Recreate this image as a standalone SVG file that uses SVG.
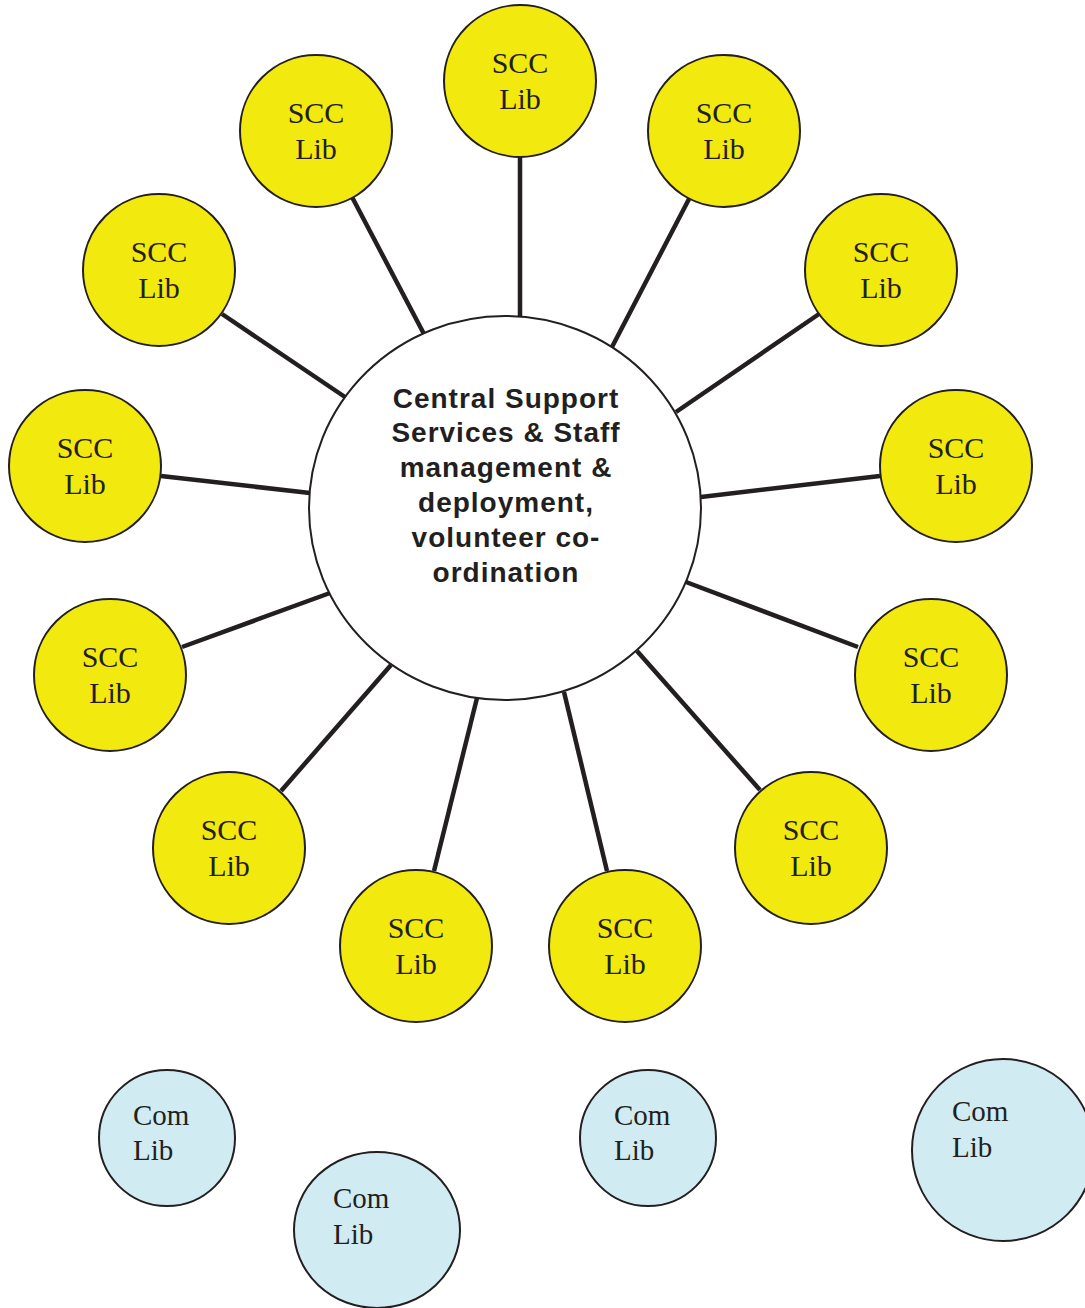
<svg xmlns="http://www.w3.org/2000/svg" width="1085" height="1308" viewBox="0 0 1085 1308">
<style>
.scc{fill:#f2e90f;stroke:#231f20;stroke-width:2}
.com{fill:#d0ecf2;stroke:#231f20;stroke-width:2}
.ctr{fill:#ffffff;stroke:#231f20;stroke-width:2}
.st{font-family:"Liberation Serif",serif;font-size:30px;fill:#231f20;text-anchor:middle}
.ct{font-family:"Liberation Serif",serif;font-size:29px;fill:#231f20}
.mt{font-family:"Liberation Sans",Arial,sans-serif;font-size:28px;letter-spacing:1px;font-weight:bold;fill:#231f20;text-anchor:middle}
.edge line{stroke:#231f20;stroke-width:4.5}
</style>
<g class="edge" id="connectors">
<line x1="520" y1="157" x2="520" y2="317"/>
<line x1="352" y1="197" x2="424" y2="334"/>
<line x1="689" y1="199" x2="612" y2="347"/>
<line x1="222" y1="314" x2="345" y2="397"/>
<line x1="819" y1="314" x2="676" y2="412"/>
<line x1="161" y1="476" x2="310" y2="493"/>
<line x1="880" y1="476" x2="701" y2="497"/>
<line x1="182" y1="647" x2="330" y2="593"/>
<line x1="858" y1="647" x2="686" y2="582"/>
<line x1="281" y1="791" x2="391" y2="665"/>
<line x1="760" y1="790" x2="637" y2="651"/>
<line x1="434" y1="871" x2="477" y2="698"/>
<line x1="607" y1="871" x2="564" y2="692"/>
</g>
<g id="center">
<ellipse class="ctr" cx="505" cy="508" rx="196" ry="192"/>
<text class="mt" x="506" y="408">Central Support</text>
<text class="mt" x="506" y="442">Services &amp; Staff</text>
<text class="mt" x="506" y="477">management &amp;</text>
<text class="mt" x="506" y="512">deployment,</text>
<text class="mt" x="506" y="547">volunteer co-</text>
<text class="mt" x="506" y="582">ordination</text>
</g>
<g id="scc1"><circle class="scc" cx="520" cy="81" r="76"/><text class="st" x="520" y="73">SCC</text><text class="st" x="520" y="109">Lib</text></g>
<g id="scc2"><circle class="scc" cx="316" cy="131" r="76"/><text class="st" x="316" y="123">SCC</text><text class="st" x="316" y="159">Lib</text></g>
<g id="scc3"><circle class="scc" cx="724" cy="131" r="76"/><text class="st" x="724" y="123">SCC</text><text class="st" x="724" y="159">Lib</text></g>
<g id="scc4"><circle class="scc" cx="159" cy="270" r="76"/><text class="st" x="159" y="262">SCC</text><text class="st" x="159" y="298">Lib</text></g>
<g id="scc5"><circle class="scc" cx="881" cy="270" r="76"/><text class="st" x="881" y="262">SCC</text><text class="st" x="881" y="298">Lib</text></g>
<g id="scc6"><circle class="scc" cx="85" cy="466" r="76"/><text class="st" x="85" y="458">SCC</text><text class="st" x="85" y="494">Lib</text></g>
<g id="scc7"><circle class="scc" cx="956" cy="466" r="76"/><text class="st" x="956" y="458">SCC</text><text class="st" x="956" y="494">Lib</text></g>
<g id="scc8"><circle class="scc" cx="110" cy="675" r="76"/><text class="st" x="110" y="667">SCC</text><text class="st" x="110" y="703">Lib</text></g>
<g id="scc9"><circle class="scc" cx="931" cy="675" r="76"/><text class="st" x="931" y="667">SCC</text><text class="st" x="931" y="703">Lib</text></g>
<g id="scc10"><circle class="scc" cx="229" cy="848" r="76"/><text class="st" x="229" y="840">SCC</text><text class="st" x="229" y="876">Lib</text></g>
<g id="scc11"><circle class="scc" cx="811" cy="848" r="76"/><text class="st" x="811" y="840">SCC</text><text class="st" x="811" y="876">Lib</text></g>
<g id="scc12"><circle class="scc" cx="416" cy="946" r="76"/><text class="st" x="416" y="938">SCC</text><text class="st" x="416" y="974">Lib</text></g>
<g id="scc13"><circle class="scc" cx="625" cy="946" r="76"/><text class="st" x="625" y="938">SCC</text><text class="st" x="625" y="974">Lib</text></g>
<g id="com1"><circle class="com" cx="167" cy="1138" r="68"/><text class="ct" x="133" y="1125">Com</text><text class="ct" x="133" y="1160">Lib</text></g>
<g id="com2"><ellipse class="com" cx="377" cy="1230" rx="83" ry="78"/><text class="ct" x="333" y="1208">Com</text><text class="ct" x="333" y="1244">Lib</text></g>
<g id="com3"><circle class="com" cx="648" cy="1138" r="68"/><text class="ct" x="614" y="1125">Com</text><text class="ct" x="614" y="1160">Lib</text></g>
<g id="com4"><circle class="com" cx="1003" cy="1150" r="91"/><text class="ct" x="952" y="1121">Com</text><text class="ct" x="952" y="1157">Lib</text></g>
</svg>
